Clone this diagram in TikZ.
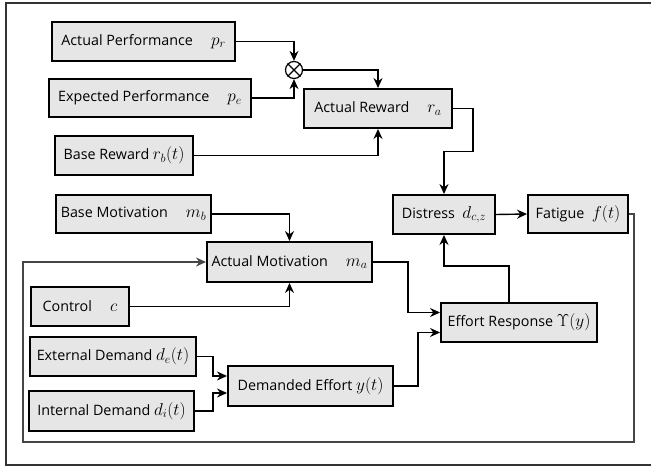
\documentclass[tikz,border=0pt]{standalone}
\usepackage{fontspec}
\setsansfont{Open Sans}
\RequirePackage{xcolor}
\definecolor{boxgray}{RGB}{230,230,230}
\definecolor{loopgray}{RGB}{70,70,70}
\newcommand{\mth}[1]{{\fontsize{17}{18}\selectfont$#1$}}
\tikzset{every picture/.style={/utils/exec={\sffamily}}}
\usetikzlibrary{calc}
\usetikzlibrary{arrows.meta}
\tikzset{
  blk/.style={draw, line width=1.9pt, fill=boxgray, inner sep=2pt,
    font=\sffamily\fontsize{14.3}{16}\selectfont},
  link/.style={line width=1.4pt, -{Stealth[length=10pt,width=9pt]}}
}

\begin{document}
\begin{tikzpicture}[x=1pt,y=-1pt]
  \useasboundingbox (0,0) rectangle (651,466);
  \draw [line width=1.2pt, black!80] (651,3) -- (6,3) -- (6,465) -- (651,465);

  \node [blk, minimum width=183pt, minimum height=39pt] (ap) at (143.5,41.5) {Actual Performance \quad \mth{p_r}};
  \node [blk, minimum width=202pt, minimum height=38pt] (ep) at (150,98) {Expected Performance \quad \mth{p_e}};
  \node [blk, minimum width=138pt, minimum height=39pt] (br) at (124,155.5) {Base Reward \mth{r_b(t)}};
  \node [blk, minimum width=155pt, minimum height=38pt] (bm) at (133.5,214) {Base Motivation \quad \mth{m_b}};
  \node [draw, circle, line width=1.2pt, minimum size=17pt, inner sep=0pt] (mul) at (294,70) {};
  \draw [line width=1.2pt] (mul.north west) -- (mul.south east) (mul.north east) -- (mul.south west);

  \node [blk, minimum width=148pt, minimum height=39pt] (ar) at (378,108.5) {Actual Reward \quad \mth{r_a}};
  \node [blk, minimum width=102pt, minimum height=39pt] (dis) at (444,214.5) {Distress \ \mth{d_{c,z}}};
  \node [blk, minimum width=100pt, minimum height=38pt] (fat) at (578,214) {Fatigue \ \mth{f(t)}};
  \node [blk, minimum width=165pt, minimum height=40pt] (am) at (289.5,262) {Actual Motivation \quad \mth{m_a}};
  \node [blk, minimum width=98pt, minimum height=39pt] (ctl) at (80,306.5) {Control \quad \mth{c}};
  \node [blk, minimum width=166pt, minimum height=39pt] (ed) at (113,356.5) {External Demand \mth{d_e(t)}};
  \node [blk, minimum width=165pt, minimum height=40pt] (id) at (111.5,411) {Internal Demand \mth{d_i(t)}};
  \node [blk, minimum width=165pt, minimum height=40pt] (de) at (310.5,386) {Demanded Effort \mth{y(t)}};
  \node [blk, minimum width=156pt, minimum height=39pt] (er) at (519,322.5) {Effort Response \mth{\Upsilon(y)}};

  % reward part
  \draw [link] (ap.east) -| (mul.north);
  \draw [link] (ep.east) -| (mul.south);
  \draw [link] (mul.east) -| (ar.north);
  \draw [link] (br.east) -| (ar.south);
  \draw [link] (ar.east) -- ++(20,0) -- ++(0,43) -| (dis.north);
  \draw [link] (dis.east) -- (fat.west);

  % motivation and effort
  \draw [link] (bm.east) -| (am.north);
  \draw [link] (ctl.east) -| (am.south);
  \draw [link] (am.east) -- ++(35,0) |- ([yshift=10pt]er.west);
  \draw [link] (de.east) -- ++(24,0) |- ([yshift=-10pt]er.west);
  \draw [link] ([xshift=-10pt]er.north) -- ++(0,-36) -| (dis.south);
  \draw [link] (ed.east) -- ++(16,0) |- ([yshift=10pt]de.west);
  \draw [link] (id.east) -- ++(18,0) |- ([yshift=-7pt]de.west);

  % fatigue feedback
  \coordinate (fbr) at (634,442);
  \coordinate (fbl) at (23,442);
  \draw [link, loopgray] (fat.east) -| (fbr) -- (fbl) |- (am.west);
\end{tikzpicture}
\end{document}
